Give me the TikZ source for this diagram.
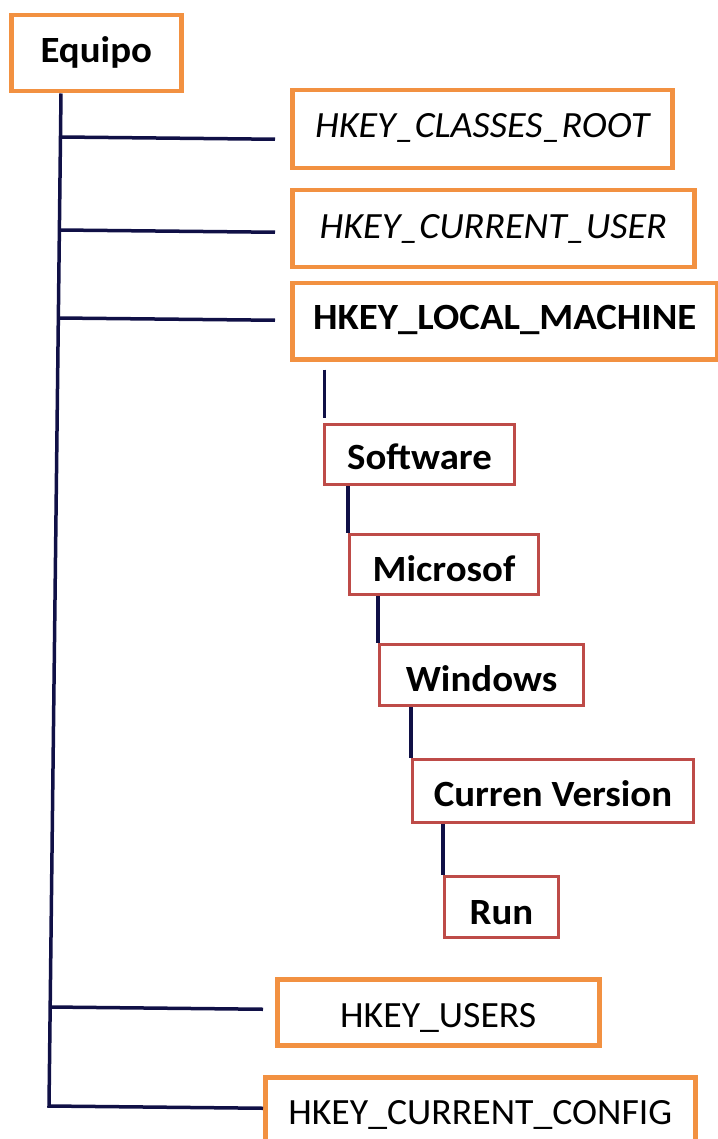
\documentclass[tikz,border=0pt]{standalone}
\usepackage{fontspec}
\setmainfont{Carlito}[FakeStretch=1.02,
  BoldFeatures={FakeStretch=1.05},
  ItalicFeatures={FakeStretch=1.03}]
\definecolor{orangeC}{RGB}{242,145,65}
\definecolor{redC}{RGB}{190,75,72}
\definecolor{navyC}{RGB}{16,16,70}
\begin{document}
\begin{tikzpicture}[x=1pt,y=-1pt,
  box/.style={draw, inner sep=0pt, anchor=north west, align=center,
    font=\fontsize{37}{44}\selectfont},
  obox/.style={box, draw=orangeC, line width=4.5pt},
  rbox/.style={box, draw=redC, line width=3pt, font=\fontsize{37}{44}\selectfont\bfseries},
  sz/.style n args={3}{minimum width=#1pt, text height=#2pt, text depth=#3pt},
  link/.style={draw=navyC, line width=3.5pt}]
\useasboundingbox (0,0) rectangle (717,1139);

% top-level keys
\node[obox, sz={170}{47}{29}, font=\fontsize{37}{44}\selectfont\bfseries] (eq) at (9,13) {Equipo};
\node[obox, sz={380}{47}{31}, font=\fontsize{37}{44}\selectfont\itshape] (cr) at (290,88) {HKEY\_CLASSES\_ROOT};
\node[obox, sz={402}{48}{29}, font=\fontsize{37}{44}\selectfont\itshape] (cu) at (290,188) {HKEY\_CURRENT\_USER};
\node[obox, sz={425}{46}{30}, font=\fontsize{37}{44}\selectfont\bfseries] (lm) at (290,281) {HKEY\_LOCAL\_MACHINE};
\node[obox, sz={322}{48}{18}] (us) at (275,977) {HKEY\_USERS};
\node[obox, sz={430}{47}{23}] (cc) at (263,1075) {HKEY\_CURRENT\_CONFIG};

% sub keys
\node[rbox, sz={190}{45}{15}] (sw) at (323,423) {Software};
\node[rbox, sz={189}{47}{13}] (ms) at (348,533) {Microsof};
\node[rbox, sz={204}{47}{14}] (wi) at (378,643) {Windows};
\node[rbox, sz={281}{47}{16}] (cv) at (411,758) {Curren Version};
\node[rbox, sz={114}{48}{13}] (rn) at (443,875) {Run};

% trunk
\coordinate (ttop) at ([xshift=52pt]eq.south west);
\coordinate (tbot) at (49,1106);
\coordinate (j1) at (60.4,137);
\coordinate (j2) at (59.3,230);
\coordinate (j3) at (58.3,318);
\coordinate (j4) at (50.2,1007);
\coordinate (b1) at ([xshift=-15pt,yshift=-10pt]cr.west);
\coordinate (b2) at ([xshift=-15pt,yshift=-3.5pt]cu.west);
\coordinate (b3) at ([xshift=-15pt,yshift=1pt]lm.west);
\coordinate (b4) at ([xshift=-12pt,yshift=3pt]us.west);
\coordinate (b5) at ([yshift=4pt]cc.west);

\draw[link] (ttop) -- (tbot) -- (b5);
\draw[link] (j1) -- (b1);
\draw[link] (j2) -- (b2);
\draw[link] (j3) -- (b3);
\draw[link] (j4) -- (b4);

% sub chain
\draw[link] ([xshift=1.5pt,yshift=-8pt]lm.south -| sw.north west) -- ([xshift=1.5pt,yshift=5pt]sw.north west);
\draw[link] (sw.south -| ms.north west) -- (ms.north west);
\draw[link] (ms.south -| wi.north west) -- (wi.north west);
\draw[link] (wi.south -| cv.north west) -- (cv.north west);
\draw[link] (cv.south -| rn.north west) -- (rn.north west);
\end{tikzpicture}
\end{document}
